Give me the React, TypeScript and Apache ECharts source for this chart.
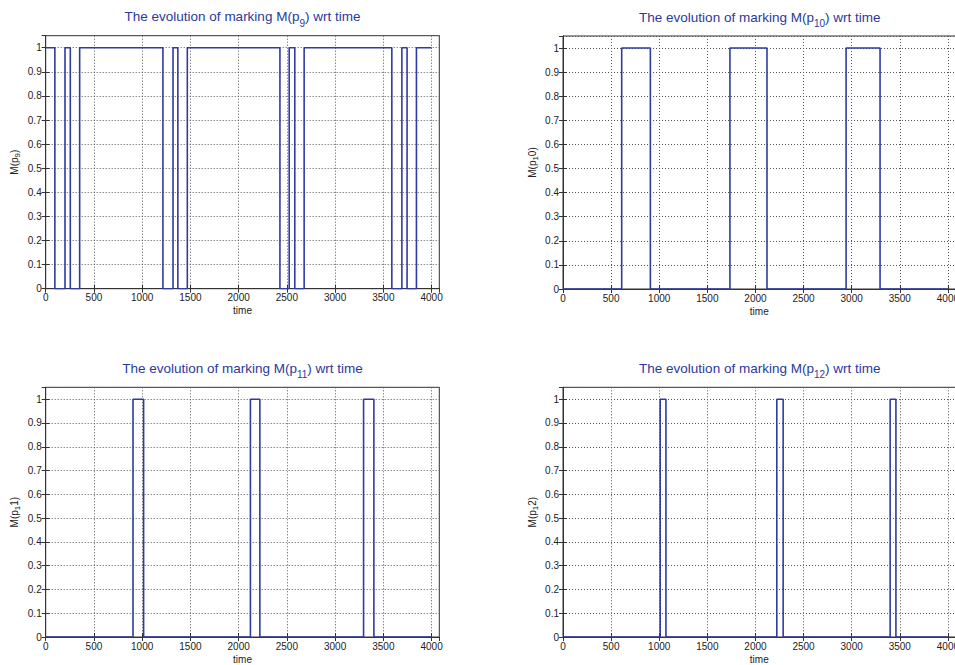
import React, { useEffect, useRef } from "react";
import * as echarts from "echarts";

// switching instants (time) and the marking held from each instant on
const p9Times = [0, 95, 200, 255, 352, 1215, 1320, 1370, 1468, 2428, 2524, 2582, 2679, 3588, 3692, 3746, 3843, 4000];
const p9Values = [1, 0, 1, 0, 1, 0, 1, 0, 1, 0, 1, 0, 1, 0, 1, 0, 1, 1];

const p10Times = [0, 610, 908, 1735, 2120, 2942, 3295, 4000];
const p10Values = [0, 1, 0, 1, 0, 1, 0, 0];

const p11Times = [0, 905, 1015, 2122, 2220, 3295, 3402, 4000];
const p11Values = [0, 1, 0, 1, 0, 1, 0, 0];

const p12Times = [0, 1010, 1070, 2222, 2288, 3400, 3460, 4000];
const p12Values = [0, 1, 0, 1, 0, 1, 0, 0];

const titleSubs = ["9", "10", "11", "12"];
const yNames = ["M(p{s|9})", "M(p{s|1}0)", "M(p{s|1}1)", "M(p{s|1}2)"];
const xTickInterval = 500;
const yTickInterval = 0.1;

const LINE = "#2f3b9f";
const TITLE = "#2a3a9c";
const FONT = "Liberation Sans, Arial, sans-serif";

export default function App() {
  const ref = useRef<HTMLDivElement>(null);
  useEffect(() => {
    if (!ref.current) return;
    document.documentElement.style.overflow = "hidden";
    document.body.style.overflow = "hidden";
    const chart = echarts.init(ref.current, null, { renderer: "svg" });
    const series = [
      [p9Times, p9Values],
      [p10Times, p10Values],
      [p11Times, p11Values],
      [p12Times, p12Values],
    ];
    const grids = [
      { left: 45.7, top: 35.7 },
      { left: 563, top: 36 },
      { left: 45.7, top: 387.3 },
      { left: 563, top: 387.3 },
    ].map((g) => ({ ...g, width: 393.6, height: 253, show: true, borderColor: "#333", borderWidth: 1, backgroundColor: "#fff" }));

    const xAxes: any[] = [];
    const yAxes: any[] = [];
    const titles: any[] = [];
    grids.forEach((g, i) => {
      const tick = { show: true, inside: true, length: 4, lineStyle: { color: "#333" } };
      xAxes.push({
        type: "value", gridIndex: i, position: "bottom", min: 0, max: 4080, interval: xTickInterval,
        axisLine: { show: true, lineStyle: { color: "#333" } },
        axisTick: tick,
        axisLabel: {
          fontSize: 10, color: "#222", fontFamily: FONT, margin: 4, showMaxLabel: false,
          formatter: (v: number) => String(v),
        },
        splitLine: { show: true, lineStyle: { type: [1, 2], color: "#555", width: 1 } },
        name: "time", nameLocation: "middle", nameGap: 17,
        nameTextStyle: { fontSize: 10, color: "#222", fontFamily: FONT },
      });
      xAxes.push({
        type: "value", gridIndex: i, position: "top", min: 0, max: 4080, interval: xTickInterval,
        axisLine: { show: true, lineStyle: { color: "#333" } },
        axisTick: tick, axisLabel: { show: false }, splitLine: { show: false },
      });
      yAxes.push({
        type: "value", gridIndex: i, position: "left", min: 0, max: 1.05, interval: yTickInterval,
        axisLine: { show: true, lineStyle: { color: "#333" } },
        axisTick: tick,
        axisLabel: {
          fontSize: 10, color: "#222", fontFamily: FONT, margin: 4, showMaxLabel: false,
          formatter: (v: number) => String(Math.round(v * 10) / 10),
        },
        splitLine: { show: true, lineStyle: { type: [1, 2], color: "#555", width: 1 } },
        name: yNames[i], nameLocation: "middle", nameGap: 24, nameRotate: 90,
        nameTextStyle: {
          fontSize: 10, color: "#222", fontFamily: FONT,
          rich: { s: { fontSize: 8, color: "#222", fontFamily: FONT, padding: [6, 0, 0, 0] } },
        },
      });
      yAxes.push({
        type: "value", gridIndex: i, position: "right", min: 0, max: 1.05, interval: yTickInterval,
        axisLine: { show: true, lineStyle: { color: "#333" } },
        axisTick: tick, axisLabel: { show: false }, splitLine: { show: false },
      });
      titles.push({
        text: `{a|The evolution of marking M(p}{s|${titleSubs[i]}}{a|) wrt time}`,
        left: g.left + g.width / 2,
        top: g.top - 19,
        padding: 0,
        textAlign: "center",
        textVerticalAlign: "middle",
        textStyle: {
          fontWeight: "normal",
          rich: {
            a: { fontSize: 13.5, color: TITLE, fontFamily: FONT, fontWeight: "normal" },
            s: { fontSize: 10, color: TITLE, fontFamily: FONT, fontWeight: "normal", padding: [13, 0, 0, 0] },
          },
        },
      });
    });

    chart.setOption({
      animation: false,
      backgroundColor: "#fff",
      title: titles,
      grid: grids,
      xAxis: xAxes,
      yAxis: yAxes,
      series: series.map(([t, v], i) => ({
        type: "line",
        step: "end",
        xAxisIndex: i * 2,
        yAxisIndex: i * 2,
        data: t.map((x, k) => [x, v[k]]),
        showSymbol: false,
        symbol: "none",
        lineStyle: { color: LINE, width: 1.6 },
        clip: true,
      })),
    });
    return () => chart.dispose();
  }, []);
  return <div ref={ref} style={{ position: "absolute", left: 0, top: 0, width: 962, height: 665 }} />;
}
